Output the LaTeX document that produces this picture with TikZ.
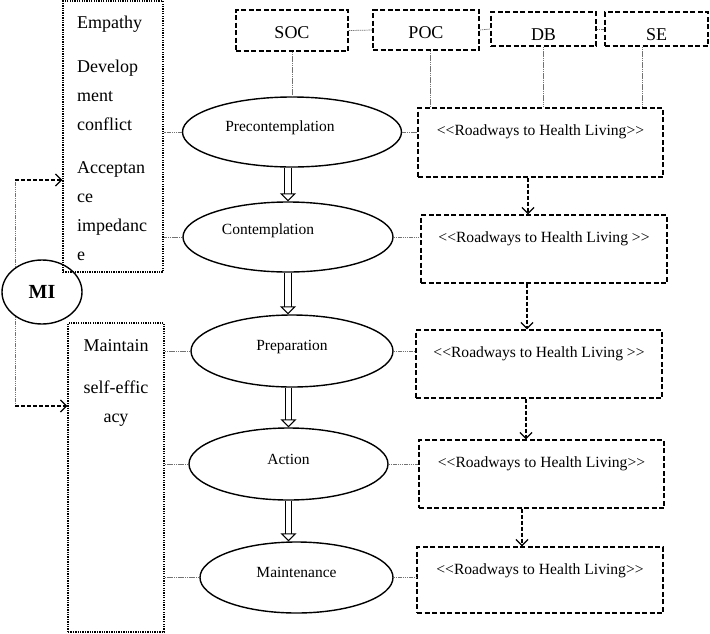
\documentclass[tikz,border=0pt]{standalone}
\usepackage{fontspec}
\setmainfont{Liberation Serif}[Ligatures=TeXOff]
\usetikzlibrary{shapes.geometric,arrows.meta,calc}
\begin{document}
\begin{tikzpicture}[x=1pt,y=-1pt,
  topbox/.style={draw, line width=1.3pt, dash pattern=on 5pt off 2.5pt, inner sep=0pt, font=\fontsize{18}{20}\selectfont},
  rwbox/.style={draw, line width=1.3pt, dash pattern=on 5pt off 2.5pt, inner sep=0pt},
  rwtext/.style={font=\fontsize{15.6}{17}\selectfont, anchor=base, yshift=-28.5pt, inner sep=0pt},
  stage/.style={ellipse, draw, line width=1.4pt, inner sep=0pt},
  stagetext/.style={font=\fontsize{15.5}{17}\selectfont, inner sep=0pt},
  dotbox/.style={draw, line width=1.3pt, dash pattern=on 1.3pt off 1.1pt, inner sep=0pt},
  sidetext/.style={font=\fontsize{18}{29}\selectfont, inner sep=0pt},
  link/.style={draw=black!55, line width=0.7pt, dash pattern=on 1.5pt off 0.7pt},
  flow/.style={line width=1.3pt, dash pattern=on 4pt off 2pt, -{Straight Barb[length=6pt,width=12pt,line width=1.3pt]}},
  stagearrow/.style={draw, line width=1pt, double distance=5.5pt, -{Triangle[open,length=8pt,width=16pt,line width=1pt]}},
]
\useasboundingbox (0,0) rectangle (710,633);

% top boxes
\node[topbox, minimum width=112pt, minimum height=41pt, text height=17pt] (soc) at (292,30.5) {SOC};
\node[topbox, minimum width=106pt, minimum height=40pt, text height=17pt] (poc) at (426,30) {POC};
\node[topbox, minimum width=105pt, minimum height=34pt, text height=24pt] (db) at (543.5,29) {DB};
\node[topbox, minimum width=103pt, minimum height=34pt, text height=24pt] (se) at (656.5,29) {SE};

% roadway boxes
\node[rwbox, minimum width=245pt, minimum height=69pt, label={[rwtext]north:{<<Roadways to Health Living>>}}] (rw1) at (540.5,142.5) {};
\node[rwbox, minimum width=246pt, minimum height=68pt, label={[rwtext]north:{<<Roadways to Health Living >>}}] (rw2) at (544,249) {};
\node[rwbox, minimum width=246pt, minimum height=68pt, label={[rwtext]north:{<<Roadways to Health Living >>}}] (rw3) at (539,364) {};
\node[rwbox, minimum width=245pt, minimum height=68pt, label={[rwtext]north:{<<Roadways to Health Living>>}}] (rw4) at (541.5,474) {};
\node[rwbox, minimum width=246pt, minimum height=66pt, label={[rwtext]north:{<<Roadways to Health Living>>}}] (rw5) at (540,580) {};

% stages
\node[stage, minimum width=219pt, minimum height=70pt, label={[stagetext,xshift=-12pt,yshift=4pt]center:Precontemplation}] (pre) at (292,132) {};
\node[stage, minimum width=210pt, minimum height=70pt, label={[stagetext,xshift=-20pt,yshift=6pt]center:Contemplation}] (con) at (288,237) {};
\node[stage, minimum width=202pt, minimum height=72pt, label={[stagetext,yshift=4pt]center:Preparation}] (prep) at (292,351) {};
\node[stage, minimum width=199pt, minimum height=72pt, label={[stagetext,yshift=5pt]center:Action}] (act) at (288.5,464) {};
\node[stage, minimum width=193pt, minimum height=71pt, label={[stagetext,yshift=5pt]center:Maintenance}] (main) at (296.5,577.5) {};

% left boxes
\node[dotbox, minimum width=100pt, minimum height=271pt] (boxa) at (113,136.5) {};
\node[dotbox, minimum width=96pt, minimum height=309pt] (boxb) at (116,477.5) {};
\node[sidetext, align=left, anchor=north west] (ta) at (77,16) {Empathy\\[15pt]Develop\\ment\\conflict\\[14pt]Acceptan\\ce\\impedanc\\e};
\node[sidetext, align=center, anchor=north] (tb) at (116,339) {Maintain\\[13pt]self-effic\\acy};

% MI
\node[ellipse, draw, line width=1.4pt, minimum width=80pt, minimum height=64pt, inner sep=0pt, font=\fontsize{20}{22}\selectfont\bfseries] (mi) at (42,292) {MI};

% links among top boxes
\draw[link] (soc.east) -- (poc.west);
\draw[link] (poc.east) -- (db.west);
\draw[link] (db.east) -- (se.west);
\draw[link] (soc.south) -- (pre.north);
\draw[link] ([xshift=4pt]poc.south) -- ([xshift=4pt]poc.south |- rw1.north);
\draw[link] (db.south) -- (db.south |- rw1.north);
\draw[link] ([xshift=-14pt]se.south) -- ([xshift=-14pt]se.south |- rw1.north);

% links stages - roadways
\draw[link] (pre.east) -- (pre.east -| rw1.west);
\draw[link] (con.east) -- (con.east -| rw2.west);
\draw[link] (prep.east) -- (prep.east -| rw3.west);
\draw[link] (act.east) -- (act.east -| rw4.west);
\draw[link] (main.east) -- (main.east -| rw5.west);

% links stages - left boxes
\draw[link] (pre.west) -- (pre.west -| boxa.east);
\draw[link] (con.west) -- (con.west -| boxa.east);
\draw[link] (prep.west) -- (prep.west -| boxb.east);
\draw[link] (act.west) -- (act.west -| boxb.east);
\draw[link] (main.west) -- (main.west -| boxb.east);

% stage arrows
\draw[stagearrow] (pre.south -| con.north) -- (con.north);
\draw[stagearrow] (con.south) -- (con.south |- prep.north);
\draw[stagearrow] (prep.south -| act.north) -- (act.north);
\draw[stagearrow] (act.south) -- (act.south |- main.north);

% roadway flow
\draw[flow] ([xshift=-12.5pt]rw1.south) -- ([xshift=-12.5pt]rw1.south |- rw2.north);
\draw[flow] ([xshift=-17pt]rw2.south) -- ([xshift=-17pt]rw2.south |- rw3.north);
\draw[flow] ([xshift=-13pt]rw3.south) -- ([xshift=-13pt]rw3.south |- rw4.north);
\draw[flow] ([xshift=-19.5pt]rw4.south) -- ([xshift=-19.5pt]rw4.south |- rw5.north);

% MI arrows
\path (mi.137) |- coordinate[pos=0.5] (c1) ([yshift=-43.5pt]boxa.west);
\path (mi.223) |- coordinate[pos=0.5] (c2) ([yshift=71.5pt]boxb.west);
\draw[link] (mi.137) -- (c1);
\draw[flow] (c1) -- (c1 -| boxa.west);
\draw[link] (mi.223) -- (c2);
\draw[flow] (c2) -- (c2 -| boxb.west);
\end{tikzpicture}
\end{document}
